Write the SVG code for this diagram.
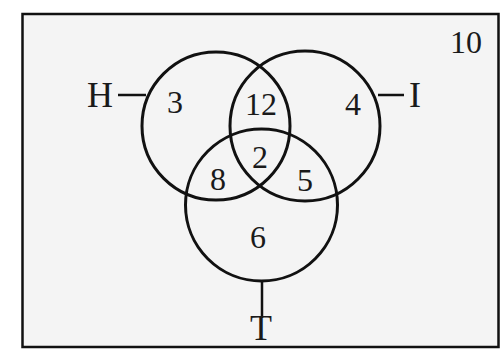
<svg xmlns="http://www.w3.org/2000/svg" width="500" height="349" viewBox="0 0 500 349">
<style>
.c{fill:none;stroke:#111;stroke-width:3}
.l{stroke:#111;stroke-width:2.5}
.t{font-family:"Liberation Serif","Times New Roman",serif;fill:#1a1a1a;text-anchor:middle}
.n{font-size:32px}
.lab{font-size:36px}
</style>
<rect width="500" height="349" fill="#fff"/>
<rect id="universe" x="22.5" y="14" width="476" height="333" fill="#f4f4f4" stroke="#111" stroke-width="2.5"/>
<g id="connectors">
<line class="l" x1="118" y1="95" x2="146" y2="95"/>
<line class="l" x1="378" y1="95" x2="404" y2="95"/>
<line class="l" x1="262" y1="281" x2="262" y2="318"/>
</g>
<g id="H"><circle class="c" cx="216" cy="126" r="74"/><text class="t lab" x="100" y="107">H</text></g>
<g id="I"><circle class="c" cx="305" cy="126" r="75"/><text class="t lab" x="415" y="107">I</text></g>
<g id="T"><circle class="c" cx="261.5" cy="205" r="76"/><text class="t lab" x="261" y="340">T</text></g>
<g id="regions">
<text class="t n" x="175" y="113">3</text>
<text class="t n" x="261" y="115">12</text>
<text class="t n" x="353" y="115">4</text>
<text class="t n" x="260" y="168">2</text>
<text class="t n" x="218" y="190">8</text>
<text class="t n" x="305" y="191">5</text>
<text class="t n" x="258" y="248">6</text>
<text class="t n" x="466" y="53">10</text>
</g>
</svg>
